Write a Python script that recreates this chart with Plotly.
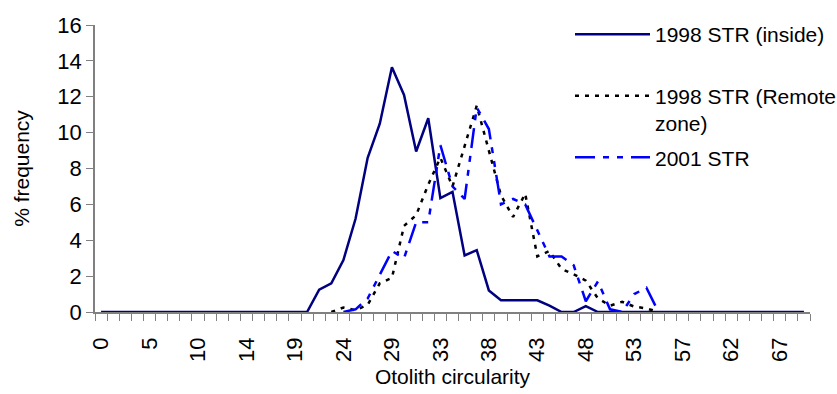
import plotly.graph_objects as go

# ---- data ----
n_categories = 59
tick_positions = [0, 4, 8, 12, 16, 20, 24, 28, 32, 36, 40, 44, 48, 52, 56]
tick_labels = ["0", "5", "10", "14", "19", "24", "29", "33", "38", "43", "48", "53", "57", "62", "67"]

inside_1998 = [0]*18 + [1.25, 1.6, 2.9, 5.2, 8.6, 10.5, 13.65, 12.1, 8.95, 10.8, 6.35, 6.7,
                        3.15, 3.45, 1.2, 0.65, 0.65, 0.65, 0.65, 0.35, 0, 0, 0.33] + [0]*18

remote_1998 = [None]*19 + [0, 0.25, 0.1, 0.4, 1.6, 1.9, 4.8, 5.4, 7.1, 8.6, 7.0, 9.3, 11.5,
                           9.0, 6.5, 5.3, 6.6, 3.1, 3.4, 2.4, 2.1, 1.75, 0.76, 0.35, 0.57,
                           0.3, 0.2, 0] + [None]*12

str_2001 = [None]*20 + [0, 0.15, 0.75, 2.05, 3.4, 3.0, 5.0, 5.0, 9.3, 7.0, 6.3, 11.4, 10.2,
                        6.0, 6.3, 6.0, 4.5, 3.1, 3.1, 2.6, 0.6, 1.7, 0.15, 0, 1.0, 1.35,
                        0] + [None]*12

names = ["1998 STR (inside)<br> ", "1998 STR (Remote<br>zone)", "2001 STR"]

x = list(range(n_categories))
FONT = "Liberation Sans, Arial, sans-serif"

fig = go.Figure()
fig.add_trace(go.Scatter(x=x, y=inside_1998, mode="lines", name=names[0],
                         line=dict(color="#000080", width=2.5), legendgroup="a"))
fig.add_trace(go.Scatter(x=x, y=remote_1998, mode="lines", name=names[1],
                         line=dict(color="#000000", width=2.5, dash="4px,6px"), legendgroup="b"))
fig.add_trace(go.Scatter(x=x, y=str_2001, mode="lines", name=names[2],
                         line=dict(color="#0000FF", width=2.5, dash="20px,8px,6px,8px,6px,8px"),
                         legendgroup="c"))

L, R, T, B = 95, 27, 25, 82
W, H = 837, 394
pw, ph = W - L - R, H - T - B

fig.update_layout(
    width=W, height=H,
    margin=dict(l=L, r=R, t=T, b=B, autoexpand=False),
    paper_bgcolor="white", plot_bgcolor="white",
    font=dict(family=FONT, size=21, color="black"),
    showlegend=True,
    legend=dict(x=(570 - L) / pw, xanchor="left",
                y=(H - B - 14) / ph, yanchor="top",
                bgcolor="rgba(0,0,0,0)", font=dict(size=21),
                valign="top", tracegroupgap=4, itemwidth=75,
                traceorder="grouped"),
)
fig.update_xaxes(
    range=[-0.5, n_categories - 0.5],
    tickmode="array", tickvals=tick_positions, ticktext=tick_labels,
    tickangle=-90, tickfont=dict(size=22),
    ticks="outside", ticklen=0, ticklabelstandoff=15,
    minor=dict(ticks="outside", ticklen=7, tickcolor="#808080", tickwidth=1,
               tickmode="linear", tick0=-0.5, dtick=1, showgrid=False),
    showline=True, linecolor="#808080", linewidth=1.5,
    showgrid=False, zeroline=False,
    title=dict(text="Otolith circularity", standoff=8, font=dict(size=21)),
)
fig.update_yaxes(
    range=[0, 16], dtick=2, tick0=0,
    tickfont=dict(size=22),
    ticks="outside", ticklen=7, tickcolor="#808080",
    showline=True, linecolor="#808080", linewidth=1.5,
    showgrid=False, zeroline=False,
    title=dict(text="% frequency", standoff=22, font=dict(size=21)),
)

fig.write_html("out.html")
